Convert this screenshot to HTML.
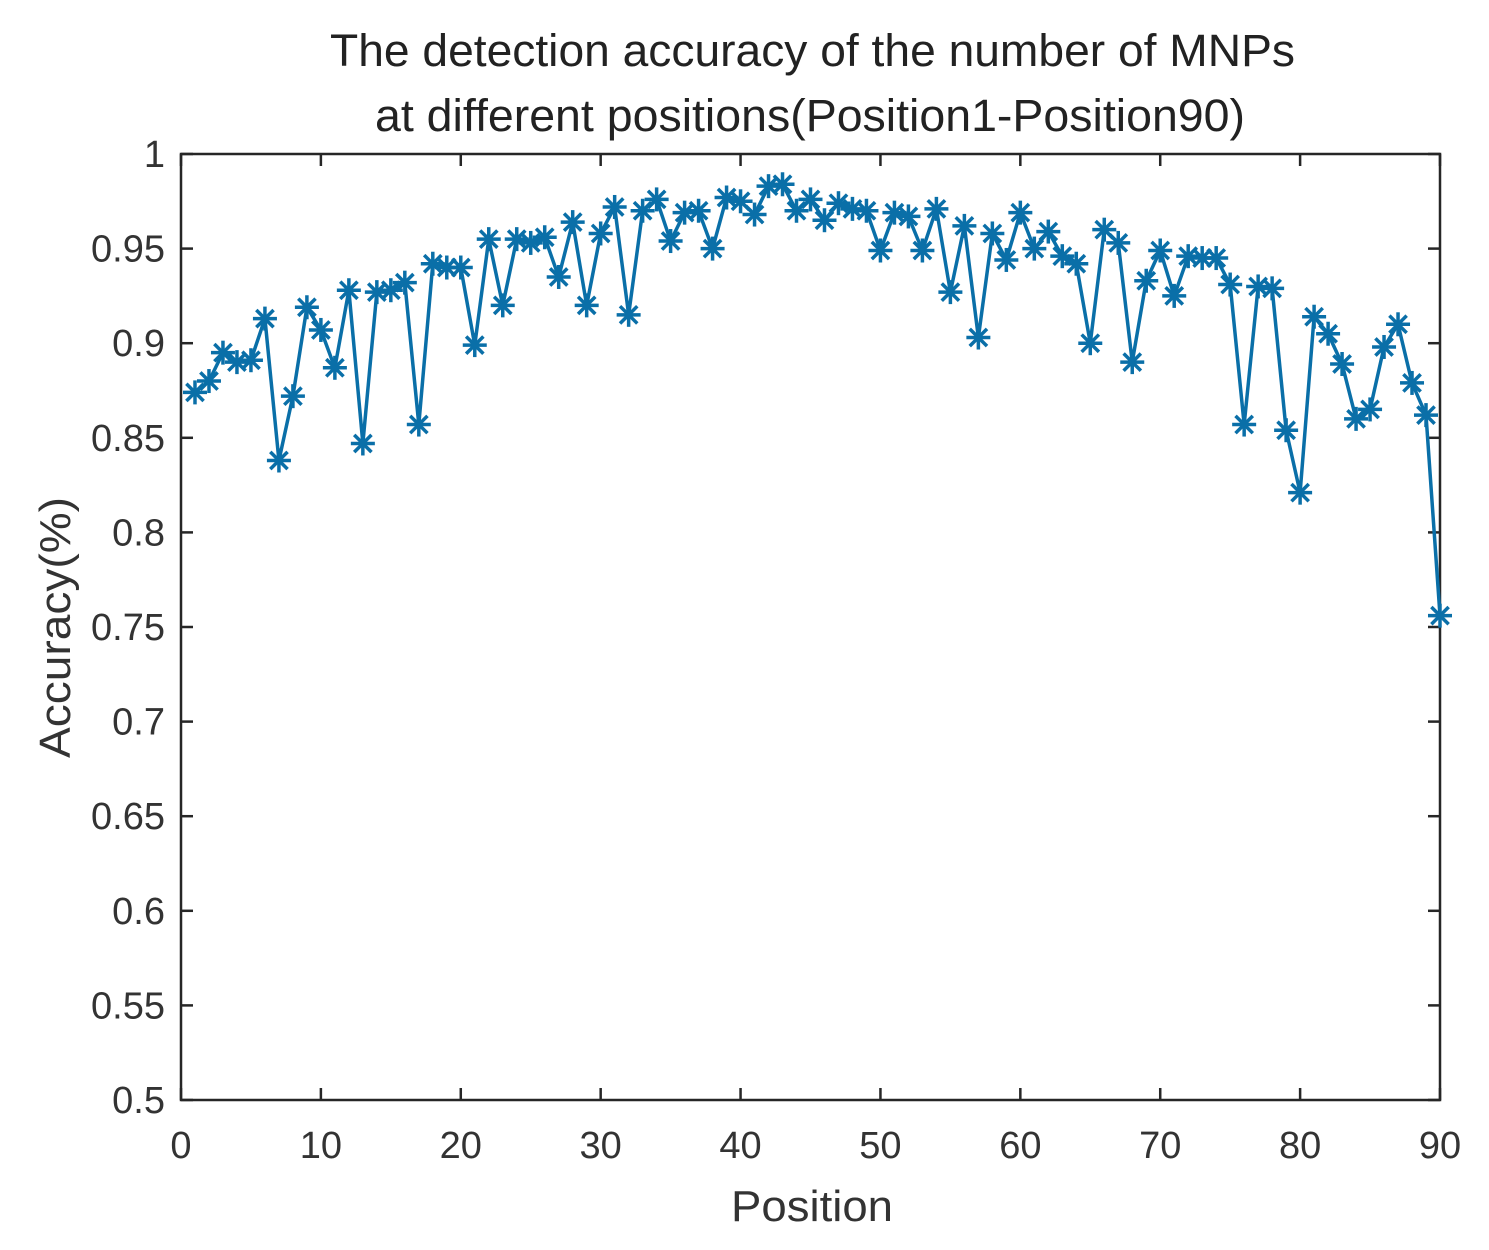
<!DOCTYPE html>
<html><head><meta charset="utf-8"><style>
html,body{margin:0;padding:0;background:#fff;}
svg{display:block;font-family:"Liberation Sans",Arial,sans-serif;}
</style></head><body>
<svg id="chart" width="1489" height="1250" viewBox="0 0 1489 1250">
<text x="330" y="66" font-size="45" textLength="965" lengthAdjust="spacingAndGlyphs" fill="#222">The detection accuracy of the number of MNPs</text>
<text x="375" y="131" font-size="45" textLength="870" lengthAdjust="spacingAndGlyphs" fill="#222">at different positions(Position1-Position90)</text>
<g id="axes"></g>
<g id="series"></g>
<text x="731" y="1221" font-size="44" textLength="162" lengthAdjust="spacingAndGlyphs" fill="#333">Position</text>
<text transform="translate(70,758) rotate(-90)" font-size="44" textLength="261" lengthAdjust="spacingAndGlyphs" fill="#333">Accuracy(%)</text>
</svg>
<script>
const xTicks=[0,10,20,30,40,50,60,70,80,90];
const yTicks=[0.5,0.55,0.6,0.65,0.7,0.75,0.8,0.85,0.9,0.95,1];
const yTickLabels=["0.5","0.55","0.6","0.65","0.7","0.75","0.8","0.85","0.9","0.95","1"];
const positions=[1,2,3,4,5,6,7,8,9,10,11,12,13,14,15,16,17,18,19,20,21,22,23,24,25,26,27,28,29,30,31,32,33,34,35,36,37,38,39,40,41,42,43,44,45,46,47,48,49,50,51,52,53,54,55,56,57,58,59,60,61,62,63,64,65,66,67,68,69,70,71,72,73,74,75,76,77,78,79,80,81,82,83,84,85,86,87,88,89,90];
const accuracy=[0.874,0.880,0.895,0.890,0.891,0.913,0.838,0.872,0.919,0.907,0.887,0.928,0.847,0.927,0.928,0.932,0.857,0.942,0.940,0.940,0.899,0.955,0.920,0.955,0.953,0.956,0.935,0.964,0.920,0.958,0.972,0.915,0.970,0.976,0.954,0.969,0.970,0.950,0.977,0.975,0.968,0.983,0.984,0.970,0.976,0.965,0.974,0.971,0.970,0.949,0.969,0.967,0.949,0.971,0.927,0.962,0.903,0.958,0.944,0.969,0.950,0.959,0.946,0.942,0.900,0.960,0.953,0.890,0.933,0.949,0.925,0.946,0.945,0.945,0.931,0.857,0.930,0.929,0.854,0.821,0.914,0.905,0.889,0.860,0.865,0.898,0.910,0.879,0.862,0.756];
const L=181,R=1440,T=154,B=1100;
const sx=v=>L+(v-0)/(90-0)*(R-L);
const sy=v=>B-(v-0.5)/(1-0.5)*(B-T);
const NS="http://www.w3.org/2000/svg";
const axes=document.getElementById('axes');
const ser=document.getElementById('series');
function mk(tag,attrs,parent){const e=document.createElementNS(NS,tag);for(const k in attrs)e.setAttribute(k,attrs[k]);parent.appendChild(e);return e;}
const box=mk('rect',{x:L,y:T,width:R-L,height:B-T,fill:'#fff',stroke:'#262626','stroke-width':2.5},axes);


xTicks.forEach(t=>{
  const x=sx(t);
  mk('line',{x1:x,y1:B,x2:x,y2:B-12,stroke:'#262626','stroke-width':2.5},axes);
  mk('line',{x1:x,y1:T,x2:x,y2:T+12,stroke:'#262626','stroke-width':2.5},axes);
  const tx=mk('text',{x:x,y:B+58,'font-size':38,'text-anchor':'middle',fill:'#333'},axes);
  tx.textContent=t;
  
  
});
yTicks.forEach((t,i)=>{
  const y=sy(t);
  mk('line',{x1:L,y1:y,x2:L+12,y2:y,stroke:'#262626','stroke-width':2.5},axes);
  mk('line',{x1:R,y1:y,x2:R-12,y2:y,stroke:'#262626','stroke-width':2.5},axes);
  const tx=mk('text',{x:L-16,y:y+13,'font-size':38,'text-anchor':'end',fill:'#333'},axes);
  tx.textContent=yTickLabels[i];
  
  
});
const pts=positions.map((p,i)=>sx(p)+','+sy(accuracy[i])).join(' ');
const line=mk('polyline',{points:pts,fill:'none',stroke:'#0a6fa8','stroke-width':3.5},ser);


positions.forEach((p,i)=>{
  const x=sx(p),y=sy(accuracy[i]),r=12;
  const g=mk('g',{stroke:'#0a6fa8','stroke-width':3.5},ser);
  
  
  mk('line',{x1:x-r,y1:y,x2:x+r,y2:y},g);
  mk('line',{x1:x,y1:y-r,x2:x,y2:y+r},g);
  const d=r*0.72;
  mk('line',{x1:x-d,y1:y-d,x2:x+d,y2:y+d},g);
  mk('line',{x1:x-d,y1:y+d,x2:x+d,y2:y-d},g);
});
</script>
</body></html>
